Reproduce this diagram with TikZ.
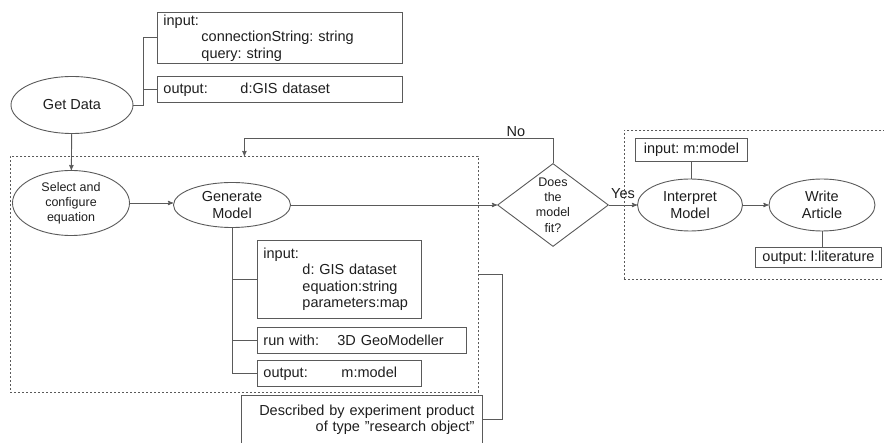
\documentclass[tikz,border=0pt]{standalone}
\usepackage{fontspec}
\setmainfont{Liberation Sans}
\frenchspacing
\usetikzlibrary{arrows,shapes.geometric}
\definecolor{linegray}{RGB}{90,90,90}
\definecolor{txtgray}{RGB}{30,30,30}
\newcommand{\mainsz}{\fontsize{14.5}{16.5}\selectfont}
\newcommand{\smallsz}{\fontsize{12.5}{15.2}\selectfont}
\tikzstyle{link} = [draw=linegray,line width=0.9pt]
\tikzstyle{arrow} = [link,->,>=stealth']
\tikzstyle{proc} = [ellipse,draw=linegray,line width=0.9pt,inner sep=0pt,align=center]
\tikzstyle{decision} = [diamond,draw=linegray,line width=0.9pt,inner sep=0pt]
\tikzstyle{iobox} = [rectangle,draw=linegray,line width=0.9pt,anchor=north west,
	inner xsep=6pt,inner ysep=0pt,align=left]
\tikzstyle{group} = [rectangle,draw=linegray,line width=0.8pt,dash pattern=on 2pt off 2pt,
	anchor=north west]

\begin{document}
\begin{tikzpicture}[x=1pt,y=-1pt,font=\mainsz,text=txtgray]
	\useasboundingbox (0,0) rectangle (884,443);
	
	% dashed groups
	\node[group, minimum width=468pt, minimum height=236pt] (grpA) at (10,156) {};
	\node[group, minimum width=262pt, minimum height=149pt] (grpB) at (624,130) {};
	
	% steps
	\node[proc, minimum width=122pt, minimum height=57pt] (getdata) at (72,105) {Get Data};
	\node[proc, minimum width=117pt, minimum height=65pt, font=\smallsz] (select) at (71,203) {Select and\\configure\\equation};
	\node[proc, minimum width=117pt, minimum height=45pt] (gen) at (232,205) {Generate\\Model};
	\node[decision, minimum width=111pt, minimum height=83pt] (fit) at (553,205) {};
	\node[font=\smallsz, align=center] (fittext) at (fit) {Does\\the\\model\\fit?};
	\node[proc, minimum width=105pt, minimum height=52pt] (interp) at (690,205) {Interpret\\Model};
	\node[proc, minimum width=106pt, minimum height=52pt] (write) at (822,205) {Write\\Article};
	
	% parameter boxes
	\node[iobox, text width=233pt, minimum height=51pt] (gdin) at (157,12)
		{input:\\\hspace*{38pt}connectionString: string\\\hspace*{38pt}query: string};
	\node[iobox, text width=233pt, minimum height=26pt] (gdout) at (157,76)
		{\makebox[77pt][l]{output:}d:GIS dataset};
	\node[iobox, text width=152pt, minimum height=78pt] (genin) at (257,240)
		{input:\\\hspace*{39pt}d: GIS dataset\\\hspace*{39pt}equation:string\\\hspace*{39pt}parameters:map};
	\node[iobox, text width=197pt, minimum height=26pt] (genrun) at (257,327)
		{\makebox[74pt][l]{run with:}3D GeoModeller};
	\node[iobox, text width=152pt, minimum height=26pt] (genout) at (257,360)
		{\makebox[78pt][l]{output:}m:model};
	\node[iobox, inner xsep=8pt, text width=225pt, align=right, minimum height=49pt] (desc) at (241,395)
		{Described by experiment product\\of type \char34 research object\char34};
	\node[iobox, align=center, minimum width=112pt, minimum height=23pt] (iminput) at (635,138) {input: m:model};
	\node[iobox, inner xsep=4pt, align=center, minimum width=126pt, minimum height=20pt] (wout) at (755,247) {output: l:literature};
	
	% connectors
	\draw[link] (getdata.east) -- ++(10,0) |- (gdin.west);
	\draw[link] (getdata.east) -- ++(10,0) |- (gdout.west);
	\draw[arrow] (getdata) -- (select);
	\draw[arrow] (select.east) -- (select.east -| gen.west);
	\draw[arrow] (gen) -- (fit);
	\draw[link] (gen.south) |- (genin.west);
	\draw[link] (gen.south) |- (genrun.west);
	\draw[link] (gen.south) |- (genout.west);
	\draw[arrow] (fit.north) -- ++(0,-25) -| node[pos=0.06, above, inner sep=1pt] {No} (grpA.north);
	\draw[link] (grpA.east) -- ++(24,0) |- (desc.east);
	\draw[arrow] (fit) -- node[above, inner sep=6pt] {Yes} (interp);
	\draw[arrow] (interp) -- (write);
	\draw[link] (iminput.south) -- (iminput.south |- interp.north);
	\draw[link] (write.south) -- (write.south |- wout.north);
\end{tikzpicture}
\end{document}
